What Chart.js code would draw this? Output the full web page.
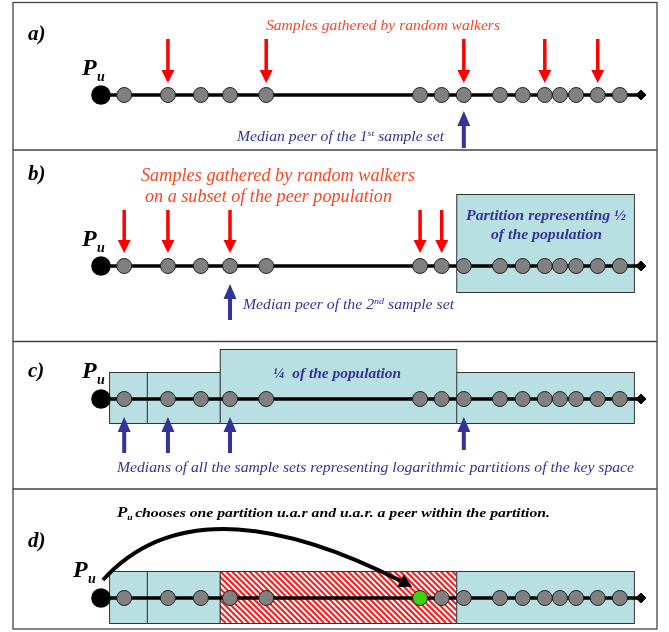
<!DOCTYPE html>
<html>
<head>
<meta charset="utf-8">
<script src="https://cdn.jsdelivr.net/npm/chart.js@4.4.1/dist/chart.umd.min.js"></script>
<style>
  html, body { margin: 0; padding: 0; background: #fff; }
  #wrap { width: 669px; height: 632px; }
</style>
</head>
<body>
<div id="wrap"><canvas id="diagram" width="669" height="632"></canvas></div>
<script>
// key space: 0 = P_u, 100 = end of the segment
const panelNames = ['a)', 'b)', 'c)', 'd)'];
const ownKey = 0;
const keySpaceEnd = 100;
const peerKeys = [4.3, 12.4, 18.5, 23.9, 30.6, 59.1, 63.1, 67.2, 73.9, 78.1, 82.2, 85.0, 88.0, 92.0, 96.1];

const walkerSamplesA = [12.4, 30.6, 67.2, 82.2, 92.0];
const medianA = 67.2;
const walkerSamplesB = [4.3, 12.4, 23.9, 59.1, 63.1];
const medianB = 23.9;
const halfPartition = [65.8, 98.7];
const partitionEdges = [1.5, 8.5, 22.0, 65.8, 98.7];
const partitionMedians = [4.3, 12.4, 23.9, 67.2];
const chosenPartition = 2;
const chosenPeer = 59.1;

const walkerText = 'Samples gathered by random walkers';
const subsetText = 'on a subset of the peer population';
const halfText = ['Partition representing \u00bd', 'of the population'];
const quarterText = '\u00bc  of the population';
const mediansText = 'Medians of all the sample sets representing logarithmic partitions of the key space';
const chooseText = 'chooses one partition u.a.r and u.a.r. a peer within the partition.';

// layout
const lineY = [95, 266, 399, 598];
const serif = '"Liberation Serif", "DejaVu Serif", serif';
const RED = '#ff0000';
const RED_TEXT = '#ff4424';
const BLUE = '#333399';
const TEAL = '#b8e0e3';

function peerColors(panel) {
  return peerKeys.map(k => (panel === 3 && k === chosenPeer) ? '#3fd010' : '#808080');
}

const datasets = [];
lineY.forEach((y, p) => {
  datasets.push({
    data: [{x: ownKey, y: y}, {x: keySpaceEnd, y: y}],
    showLine: true, borderColor: '#000', borderWidth: 3.5, pointRadius: 0, order: 5
  });
  datasets.push({
    data: [{x: keySpaceEnd, y: y}],
    pointStyle: 'rectRot', pointRadius: 5, backgroundColor: '#000', borderColor: '#000', order: 4
  });
  datasets.push({
    data: peerKeys.map(k => ({x: k, y: y})),
    pointRadius: 7.5, backgroundColor: peerColors(p), borderColor: '#222', borderWidth: 1, order: 2
  });
  datasets.push({
    data: [{x: ownKey, y: y}],
    pointRadius: 9.8, backgroundColor: '#000', borderColor: '#000', borderWidth: 0, order: 1
  });
});

function arrow(ctx, x, yTail, yTip, color, shaft, headW, headL) {
  const dir = Math.sign(yTip - yTail);
  const base = yTip - dir * headL;
  ctx.fillStyle = color;
  ctx.fillRect(x - shaft / 2, Math.min(yTail, base), shaft, Math.abs(base - yTail));
  ctx.beginPath();
  ctx.moveTo(x - headW / 2, base);
  ctx.lineTo(x + headW / 2, base);
  ctx.lineTo(x, yTip);
  ctx.closePath();
  ctx.fill();
}

// draws text pieces squeezed to a given width, y is the baseline
function runs(ctx, parts, left, y, width, color) {
  let total = 0;
  parts.forEach(p => { ctx.font = p[1]; total += ctx.measureText(p[0]).width; });
  ctx.save();
  ctx.translate(left, y);
  ctx.scale(width / total, 1);
  ctx.fillStyle = color;
  ctx.textAlign = 'left';
  ctx.textBaseline = 'alphabetic';
  let cx = 0;
  parts.forEach(p => {
    ctx.font = p[1];
    ctx.fillText(p[0], cx, p[2] || 0);
    cx += ctx.measureText(p[0]).width;
  });
  ctx.restore();
}

function puLabel(ctx, x, y) {
  ctx.fillStyle = '#000';
  ctx.textAlign = 'left';
  ctx.textBaseline = 'alphabetic';
  ctx.font = 'bold italic 24px ' + serif;
  ctx.fillText('P', x, y);
  ctx.font = 'bold italic 14px ' + serif;
  ctx.fillText('u', x + 15, y + 6);
}

function box(ctx, x0, x1, top, bottom) {
  ctx.fillStyle = TEAL;
  ctx.fillRect(x0, top, x1 - x0, bottom - top);
  ctx.strokeStyle = '#333';
  ctx.lineWidth = 1;
  ctx.strokeRect(x0 + 0.5, top + 0.5, x1 - x0, bottom - top);
}

const backdrop = {
  id: 'backdrop',
  beforeDatasetsDraw(chart) {
    const ctx = chart.ctx;
    const xs = chart.scales.x;
    ctx.save();
    ctx.fillStyle = '#fff';
    ctx.fillRect(0, 0, chart.width, chart.height);

    // frame and panel separators
    ctx.strokeStyle = '#444';
    ctx.lineWidth = 1.3;
    ctx.strokeRect(13, 2.5, 644, 626.5);
    [150, 341.5, 489].forEach(y => {
      ctx.beginPath(); ctx.moveTo(13, y); ctx.lineTo(657, y); ctx.stroke();
    });

    // b) half partition
    box(ctx, xs.getPixelForValue(halfPartition[0]), xs.getPixelForValue(halfPartition[1]), 194, 292);

    // c) logarithmic partitions
    for (let i = 0; i < partitionEdges.length - 1; i++) {
      const top = i === chosenPartition ? 349 : 372;
      box(ctx, xs.getPixelForValue(partitionEdges[i]), xs.getPixelForValue(partitionEdges[i + 1]), top, 423);
    }

    // d) same partitions, chosen one hatched
    for (let i = 0; i < partitionEdges.length - 1; i++) {
      const x0 = xs.getPixelForValue(partitionEdges[i]);
      const x1 = xs.getPixelForValue(partitionEdges[i + 1]);
      if (i === chosenPartition) {
        const top = 571, bottom = 623;
        ctx.save();
        ctx.beginPath(); ctx.rect(x0, top, x1 - x0, bottom - top); ctx.clip();
        ctx.fillStyle = '#fff';
        ctx.fillRect(x0, top, x1 - x0, bottom - top);
        ctx.strokeStyle = '#ff1a1a';
        ctx.lineWidth = 2.1;
        const h = bottom - top;
        for (let k = x0 - h; k < x1 + 2; k += 5.8) {
          ctx.beginPath(); ctx.moveTo(k, top); ctx.lineTo(k + h, bottom); ctx.stroke();
        }
        ctx.restore();
        ctx.strokeStyle = '#333';
        ctx.lineWidth = 1;
        ctx.strokeRect(x0 + 0.5, top + 0.5, x1 - x0, bottom - top);
      } else {
        box(ctx, x0, x1, 571, 623);
      }
    }
    ctx.restore();
  },
  afterDatasetsDraw(chart) {
    const ctx = chart.ctx;
    const xs = chart.scales.x;
    const px = k => xs.getPixelForValue(k);
    ctx.save();

    // panel letters
    ctx.fillStyle = '#000';
    ctx.font = 'bold italic 21px ' + serif;
    ctx.textBaseline = 'alphabetic';
    [40, 180, 377, 547].forEach((y, i) => ctx.fillText(panelNames[i], 28, y));

    puLabel(ctx, 82, 75);
    puLabel(ctx, 82, 246);
    puLabel(ctx, 82, 378);
    puLabel(ctx, 73, 577);

    // a)
    runs(ctx, [[walkerText, 'italic 15px ' + serif]], 266, 30, 234, RED_TEXT);
    walkerSamplesA.forEach(k => arrow(ctx, px(k), lineY[0] - 56, lineY[0] - 12, RED, 3.5, 13, 13));
    arrow(ctx, px(medianA), 148, 111, BLUE, 4, 13, 15);
    runs(ctx, [['Median peer of the 1', 'italic 14px ' + serif], ['st', 'italic 9px ' + serif, -5],
               [' sample set', 'italic 14px ' + serif]], 237, 141, 207, BLUE);

    // b)
    runs(ctx, [[walkerText, 'italic 18px ' + serif]], 141, 181, 274, RED_TEXT);
    runs(ctx, [[subsetText, 'italic 18px ' + serif]], 145, 202, 247, RED_TEXT);
    walkerSamplesB.forEach(k => arrow(ctx, px(k), lineY[1] - 56, lineY[1] - 13, RED, 3.5, 13, 13));
    runs(ctx, [[halfText[0], 'bold italic 15px ' + serif]], 466, 220, 160, BLUE);
    runs(ctx, [[halfText[1], 'bold italic 15px ' + serif]], 491, 239, 111, BLUE);
    arrow(ctx, px(medianB), 320, 284, BLUE, 4, 13, 15);
    runs(ctx, [['Median peer of the 2', 'italic 14px ' + serif], ['nd', 'italic 9px ' + serif, -5],
               [' sample set', 'italic 14px ' + serif]], 243, 309, 211, BLUE);

    // c)
    runs(ctx, [[quarterText, 'bold italic 14px ' + serif]], 273, 378, 128, BLUE);
    partitionMedians.forEach((k, i) => arrow(ctx, px(k), i === 3 ? 450 : 453, 417, BLUE, 4, 13, 15));
    runs(ctx, [[mediansText, 'italic 14px ' + serif]], 117, 472, 517, BLUE);

    // d)
    runs(ctx, [['P', 'bold italic 14px ' + serif], ['u ', 'bold italic 8px ' + serif, 3],
               [chooseText, 'bold italic 13px ' + serif]], 117, 517, 433, '#000');

    const sx = px(ownKey) + 2, sy = lineY[3] - 18;
    const tipX = px(chosenPeer) - 8, tipY = lineY[3] - 11.3;
    const ang = 27 * Math.PI / 180;
    const bx = tipX - 13 * Math.cos(ang), by = tipY - 13 * Math.sin(ang);
    ctx.strokeStyle = '#000';
    ctx.lineWidth = 4;
    ctx.beginPath();
    ctx.moveTo(sx, sy);
    ctx.bezierCurveTo(sx + 72, sy - 80, bx - 110, by - 56, bx, by);
    ctx.stroke();
    ctx.fillStyle = '#000';
    ctx.beginPath();
    const nx = -Math.sin(ang), ny = Math.cos(ang);
    ctx.moveTo(tipX, tipY);
    ctx.lineTo(bx + nx * 7, by + ny * 7);
    ctx.lineTo(bx - nx * 7, by - ny * 7);
    ctx.closePath();
    ctx.fill();

    ctx.restore();
  }
};

new Chart(document.getElementById('diagram'), {
  type: 'scatter',
  data: { datasets: datasets },
  options: {
    responsive: false,
    animation: false,
    events: [],
    layout: { padding: 0, autoPadding: false },
    plugins: { legend: { display: false }, tooltip: { enabled: false } },
    scales: {
      x: { type: 'linear', display: false, min: -18.7, max: 105.2 },
      y: { type: 'linear', display: false, min: 0, max: 632, reverse: true }
    }
  },
  plugins: [backdrop]
});
</script>
</body>
</html>
